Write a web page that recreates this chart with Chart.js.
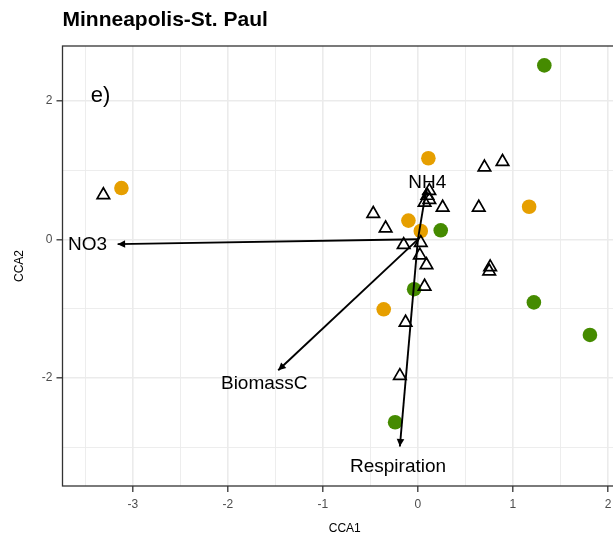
<!DOCTYPE html>
<html>
<head>
<meta charset="utf-8">
<script src="https://cdn.jsdelivr.net/npm/chart.js@4/dist/chart.umd.min.js"></script>
<style>
  html, body { margin: 0; padding: 0; overflow: hidden; background: #ffffff; }
  #wrap { width: 640px; height: 539px; }
</style>
</head>
<body>
<div id="wrap"><canvas id="cca"></canvas></div>
<script>
// Site scores (CCA1, CCA2) for the two site groups
const sitesOrange = [
  [-3.12, 0.74], [0.11, 1.17], [1.17, 0.47], [-0.10, 0.27], [0.03, 0.12], [-0.36, -1.01]
];
const sitesGreen = [
  [1.33, 2.51], [0.24, 0.13], [-0.04, -0.72], [1.22, -0.91], [1.81, -1.38], [-0.24, -2.64]
];
// Species scores (CCA1, CCA2)
const speciesScores = [
  [-3.31, 0.64], [0.70, 1.04], [0.89, 1.12], [0.12, 0.70], [0.10, 0.63], [0.12, 0.57],
  [0.07, 0.53], [0.26, 0.46], [0.64, 0.46], [-0.47, 0.37], [-0.34, 0.16], [-0.15, -0.08],
  [0.03, -0.05], [0.02, -0.23], [0.09, -0.37], [0.76, -0.40], [0.75, -0.46], [0.07, -0.68],
  [-0.13, -1.20], [-0.19, -1.97]
];
// Environmental vectors (biplot arrows)
const envNames = ['NO3', 'NH4', 'BiomassC', 'Respiration'];
const envCCA1 = [-3.16, 0.09, -1.47, -0.19];
const envCCA2 = [-0.07, 0.74, -1.89, -2.99];
const labelScale = 1.1;

// Axis breaks
const xMajor = [-3, -2, -1, 0, 1, 2];
const xMinor = [-3.5, -2.5, -1.5, -0.5, 0.5, 1.5];
const yMajor = [-2, 0, 2];
const yMinor = [-3, -1, 1];

const panelTitle = 'Minneapolis-St. Paul';
const panelTag = 'e)';
const panelTagPos = [-3.34, 2.07];

const toXY = arr => arr.map(p => ({ x: p[0], y: p[1] }));

const arrowSets = envNames.map((name, i) => ({
  label: name,
  type: 'line',
  data: [{ x: 0, y: 0 }, { x: envCCA1[i], y: envCCA2[i] }],
  borderColor: '#000000',
  borderWidth: 1.9,
  pointRadius: 0,
  showLine: true,
  fill: false,
  order: 0
}));

const isMajor = (list, v) => list.some(m => Math.abs(m - v) < 1e-9);

const gridColor = '#EBEBEB';
const sans = '"Liberation Sans", Arial, Helvetica, sans-serif';

const decorations = {
  id: 'decorations',
  afterDatasetsDraw(chart) {
    const ctx = chart.ctx;
    const xs = chart.scales.x, ys = chart.scales.y;
    ctx.save();
    // arrowheads
    envNames.forEach((name, i) => {
      const x0 = xs.getPixelForValue(0), y0 = ys.getPixelForValue(0);
      const x1 = xs.getPixelForValue(envCCA1[i]), y1 = ys.getPixelForValue(envCCA2[i]);
      const ang = Math.atan2(y1 - y0, x1 - x0);
      const len = 7.5, half = 3.8;
      const bx = x1 - Math.cos(ang) * len, by = y1 - Math.sin(ang) * len;
      ctx.beginPath();
      ctx.moveTo(x1, y1);
      ctx.lineTo(bx + Math.sin(ang) * half, by - Math.cos(ang) * half);
      ctx.lineTo(bx - Math.sin(ang) * half, by + Math.cos(ang) * half);
      ctx.closePath();
      ctx.fillStyle = '#000000';
      ctx.fill();
    });
    // vector labels
    ctx.font = '19px ' + sans;
    ctx.fillStyle = '#000000';
    ctx.textAlign = 'center';
    ctx.textBaseline = 'middle';
    envNames.forEach((name, i) => {
      ctx.fillText(name,
        xs.getPixelForValue(envCCA1[i] * labelScale),
        ys.getPixelForValue(envCCA2[i] * labelScale));
    });
    // panel tag
    ctx.font = '22px ' + sans;
    ctx.fillText(panelTag, xs.getPixelForValue(panelTagPos[0]), ys.getPixelForValue(panelTagPos[1]));
    ctx.restore();
  },
  afterDraw(chart) {
    const ctx = chart.ctx;
    const a = chart.chartArea;
    ctx.save();
    // panel border
    ctx.strokeStyle = '#333333';
    ctx.lineWidth = 1.3;
    ctx.strokeRect(a.left, a.top, a.right - a.left, a.bottom - a.top);
    // plot title
    ctx.font = 'bold 21px ' + sans;
    ctx.fillStyle = '#000000';
    ctx.textAlign = 'left';
    ctx.textBaseline = 'middle';
    ctx.fillText(panelTitle, a.left, a.top - 26);
    ctx.restore();
  }
};

new Chart(document.getElementById('cca'), {
  type: 'scatter',
  data: {
    datasets: [
      ...arrowSets,
      {
        label: 'Species',
        data: toXY(speciesScores),
        pointStyle: 'triangle',
        pointRadius: 7.2,
        backgroundColor: 'rgba(0,0,0,0)',
        borderColor: '#000000',
        borderWidth: 1.7,
        order: 1
      },
      {
        label: 'Sites A',
        data: toXY(sitesOrange),
        pointRadius: 7.3,
        backgroundColor: '#E69F00',
        borderWidth: 0,
        order: 2
      },
      {
        label: 'Sites B',
        data: toXY(sitesGreen),
        pointRadius: 7.3,
        backgroundColor: '#458B00',
        borderWidth: 0,
        order: 2
      }
    ]
  },
  options: {
    responsive: true,
    maintainAspectRatio: false,
    animation: false,
    devicePixelRatio: 1,
    layout: { padding: { top: 46, right: 13, bottom: 0, left: 0 } },
    plugins: { legend: { display: false }, tooltip: { enabled: false } },
    scales: {
      x: {
        type: 'linear',
        min: -3.74,
        max: 2.2,
        afterBuildTicks: s => { s.ticks = [...xMajor, ...xMinor].sort((a, b) => a - b).map(v => ({ value: v })); },
        afterFit: s => { s.height = 53; },
        border: { display: false },
        grid: {
          color: c => gridColor,
          lineWidth: c => isMajor(xMajor, c.tick.value) ? 1.6 : 0.9,
          tickColor: c => isMajor(xMajor, c.tick.value) ? '#333333' : 'rgba(0,0,0,0)',
          tickWidth: 1.3,
          tickLength: 6
        },
        ticks: {
          padding: 5,
          color: '#4D4D4D',
          font: { size: 12, family: sans },
          maxRotation: 0,
          autoSkip: false,
          callback: v => isMajor(xMajor, v) ? String(v) : ''
        },
        title: {
          display: true,
          text: 'CCA1',
          color: '#000000',
          font: { size: 12, family: sans },
          padding: { top: 0, bottom: 3 }
        }
      },
      y: {
        type: 'linear',
        min: -3.56,
        max: 2.79,
        afterBuildTicks: s => { s.ticks = [...yMajor, ...yMinor].sort((a, b) => a - b).map(v => ({ value: v })); },
        afterFit: s => { s.width = 62.5; },
        border: { display: false },
        grid: {
          color: c => gridColor,
          lineWidth: c => isMajor(yMajor, c.tick.value) ? 1.6 : 0.9,
          tickColor: c => isMajor(yMajor, c.tick.value) ? '#333333' : 'rgba(0,0,0,0)',
          tickWidth: 1.3,
          tickLength: 6
        },
        ticks: {
          padding: 4,
          color: '#4D4D4D',
          font: { size: 12, family: sans },
          autoSkip: false,
          callback: v => isMajor(yMajor, v) ? String(v) : ''
        },
        title: {
          display: true,
          text: 'CCA2',
          color: '#000000',
          font: { size: 12, family: sans },
          padding: { top: 12, bottom: 0 }
        }
      }
    }
  },
  plugins: [decorations]
});
</script>
</body>
</html>
